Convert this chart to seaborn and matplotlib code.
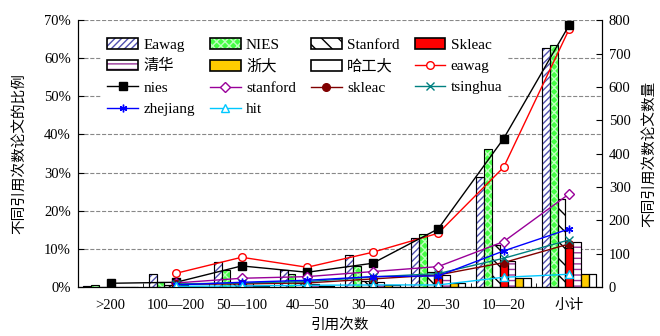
import numpy as np
import pandas as pd
import matplotlib
matplotlib.use('Agg')
import matplotlib.pyplot as plt
from matplotlib.patches import Rectangle
import seaborn as sns

# 引用次数分组
categories = ['>200', '100—200', '50—100', '40—50', '30—40', '20—30', '10—20', '小计']

# 柱: 各机构不同引用次数论文的比例 (%)
bar_names = ['Eawag', 'NIES', 'Stanford', 'Skleac', '清华', '浙大', '哈工大']
eawag_pct    = [0.3, 3.4, 6.6, 4.5, 8.4, 12.9, 28.9, 62.6]
nies_pct     = [0.5, 1.4, 4.5, 3.4, 5.6, 13.8, 36.1, 63.4]
stanford_pct = [0.1, 0.5, 1.0, 1.0, 1.5, 4.0, 10.9, 23.0]
skleac_pct   = [0.1, 0.3, 0.8, 0.7, 1.0, 3.0, 6.6, 10.1]
tsinghua_pct = [0.1, 0.4, 1.0, 0.9, 1.2, 3.2, 6.9, 11.7]
zhejiang_pct = [0.0, 0.1, 0.3, 0.3, 0.5, 1.1, 2.3, 3.3]
hit_pct      = [0.0, 0.1, 0.3, 0.3, 0.5, 1.0, 2.3, 3.3]

# 线: 不同引用次数论文数量
eawag_n    = [np.nan, 41, 89, 59, 104, 161, 359, 773]
nies_n     = [11, 14, 63, 44, 71, 174, 445, 785]
stanford_n = [np.nan, 12, 26, 31, 46, 61, 136, 279]
skleac_n   = [np.nan, 8, 9, 12, 24, 36, 73, 129]
tsinghua_n = [np.nan, 9, 12, 16, 30, 40, 86, 141]
zhejiang_n = [np.nan, 6, 14, 20, 31, 33, 108, 174]
hit_n      = [np.nan, 2, 3, 5, 6, 6, 29, 38]

plt.rcParams['font.family'] = ['Liberation Serif', 'Noto Sans CJK SC']
plt.rcParams['font.size'] = 10.5
plt.rcParams['axes.unicode_minus'] = False

bars = pd.DataFrame({
    'cat': np.tile(categories, 7),
    'org': np.repeat(bar_names, 8),
    'pct': eawag_pct + nies_pct + stanford_pct + skleac_pct + tsinghua_pct + zhejiang_pct + hit_pct,
})

fig = plt.figure(figsize=(6.6, 3.36), dpi=100)
ax = fig.add_axes([0.118, 0.146, 0.794, 0.794])

sns.barplot(data=bars, x='cat', y='pct', hue='org', order=categories, hue_order=bar_names,
            width=0.83, ax=ax, legend=False, saturation=1)

# 柱的样式: (填充色, 阴影, 阴影颜色)
styles = [('white', '/////', '#5050b0'),
          ('#44ff44', 'xxxx', '#c0ffc0'),
          ('white', '\\\\', 'black'),
          ('#ff0000', '', 'black'),
          ('white', '---', '#993399'),
          ('#ffcc00', '', 'black'),
          ('white', '', 'black')]
bar_handles = []
for cont, (fc, hatch, hc) in zip(ax.containers, styles):
    for p in cont.patches:
        p.set_facecolor(fc)
        p.set_hatch(hatch)
        p.set_edgecolor(hc)
        p.set_linewidth(0.8)
        ax.add_patch(Rectangle(p.get_xy(), p.get_width(), p.get_height(),
                               fill=False, edgecolor='black', linewidth=0.8, zorder=p.get_zorder() + 0.1))
    h = (Rectangle((0, 0), 1, 1, facecolor=fc, hatch=hatch, edgecolor=hc, linewidth=0),
         Rectangle((0, 0), 1, 1, fill=False, edgecolor='black', linewidth=1.2))
    bar_handles.append(h)

ax.set_xlim(-0.5, 7.5)
ax.set_ylim(0, 70)
ax.set_yticks(np.arange(0, 71, 10))
ax.set_yticklabels([f'{v}%' for v in range(0, 71, 10)])
ax.set_xticks(np.arange(8))
ax.set_xticklabels(categories)
ax.set_xticks(np.arange(-0.5, 8, 1), minor=True)
ax.tick_params(axis='x', which='major', length=0, pad=9)
ax.tick_params(axis='x', which='minor', direction='in', length=3)
ax.tick_params(axis='y', direction='in', length=4, pad=5)
ax.yaxis.grid(True, linestyle='--', color='#888888', linewidth=0.8)
ax.set_axisbelow(True)
ax.spines['top'].set_visible(False)
ax.set_xlabel('引用次数', labelpad=4)
ax.set_ylabel('不同引用次数论文的比例', labelpad=13)

ax2 = ax.twinx()
x = np.arange(8)
line_specs = [
    ('eawag', eawag_n, '#ff0000', 'o', 'white'),
    ('nies', nies_n, 'black', 's', 'black'),
    ('stanford', stanford_n, '#990099', 'D', 'white'),
    ('skleac', skleac_n, '#800000', 'o', '#800000'),
    ('tsinghua', tsinghua_n, '#008080', 'x', '#008080'),
    ('zhejiang', zhejiang_n, '#0000ff', (6, 2, 0), '#0000ff'),
    ('hit', hit_n, '#00c8ff', '^', 'white'),
]
line_handles = []
for name, vals, color, mk, mfc in line_specs:
    sns.lineplot(x=x, y=vals, ax=ax2, color=color, marker=mk, markersize=5.5,
                 markerfacecolor=mfc, markeredgecolor=color, markeredgewidth=1.0,
                 linewidth=1.0, label=name, legend=False)
    line_handles.append(ax2.lines[-1])

ax2.set_ylim(0, 800)
ax2.set_yticks(np.arange(0, 801, 100))
ax2.tick_params(axis='y', direction='in', length=4, pad=5)
ax2.spines['top'].set_visible(False)
ax2.set_ylabel('不同引用次数论文数量', labelpad=8)
ax2.grid(False)

# 图例按行排列 (4 列), 白底遮住网格线
handles = bar_handles + line_handles
labels = bar_names + [s[0] for s in line_specs]
order = [0, 4, 8, 12, 1, 5, 9, 13, 2, 6, 10, 3, 7, 11]
leg = ax2.legend([handles[i] for i in order], [labels[i] for i in order], ncol=4, frameon=True,
                 loc='upper left', bbox_to_anchor=(0.03, 0.985), handlelength=2.0, handleheight=0.7,
                 columnspacing=1.0, labelspacing=0.5, handletextpad=0.35, fontsize=11,
                 fancybox=False, borderpad=0.4)
leg.get_frame().set_facecolor('white')
leg.get_frame().set_edgecolor('none')
leg.get_frame().set_alpha(1)

fig.savefig('out.png', dpi=100)
